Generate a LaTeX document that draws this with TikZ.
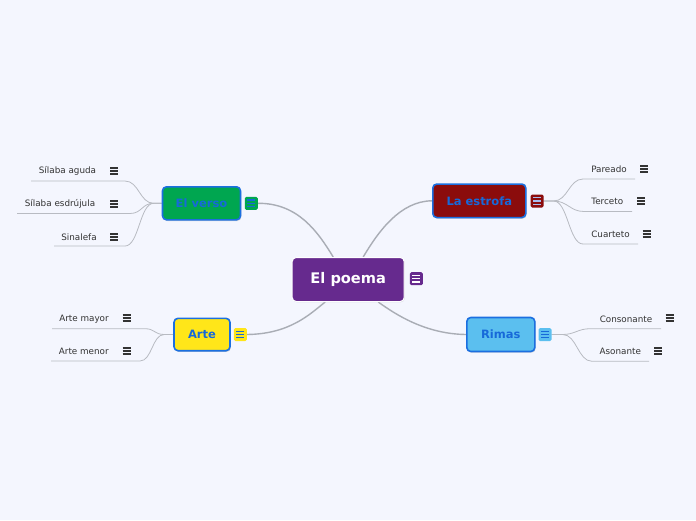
\documentclass[tikz,border=0pt]{standalone}
\usepackage{fontspec}
\setmainfont{DejaVu Sans}
\usetikzlibrary{shadows}
\definecolor{bgc}{HTML}{F4F6FE}
\definecolor{poemac}{HTML}{662A8E}
\definecolor{versoc}{HTML}{00A650}
\definecolor{estrofac}{HTML}{8B0C0C}
\definecolor{artec}{HTML}{FFE619}
\definecolor{rimasc}{HTML}{5BBFEF}
\definecolor{txtc}{HTML}{1769D9}
\definecolor{bordc}{HTML}{1B6FE0}
\definecolor{leaftxt}{HTML}{333333}
\definecolor{mainlc}{HTML}{A9ADB5}
\definecolor{leaflc}{HTML}{B8BBC2}
\definecolor{lightbar}{HTML}{A9BDF0}
\pgfdeclarelayer{bglayer}\pgfdeclarelayer{edgelayer}
\pgfsetlayers{bglayer,edgelayer,main}
\begin{document}
\begin{tikzpicture}[x=1pt,y=-1pt,
  maintopic/.style={rectangle, rounded corners=4pt, draw=bordc, line width=1.6pt,
    text=txtc, font=\bfseries\fontsize{11.5}{13}\selectfont, inner sep=0pt,
    drop shadow={shadow xshift=0.8pt, shadow yshift=-1.2pt, opacity=0.3}},
  noteicon/.style 2 args={rectangle, rounded corners=1.5pt, minimum size=13pt, inner sep=0pt,
    fill=#1, path picture={\foreach \dy in {-3.2,0,3.2}{\draw[#2, line width=1.3pt]
      ([xshift=-4pt,yshift=\dy pt]path picture bounding box.center) --
      ([xshift=4pt,yshift=\dy pt]path picture bounding box.center);}}},
  leaficon/.style={rectangle, minimum width=9pt, minimum height=9pt, inner sep=0pt,
    path picture={\foreach \dy in {-3,0,3}{\draw[leaftxt, line width=1.7pt]
      ([xshift=-4pt,yshift=\dy pt]path picture bounding box.center) --
      ([xshift=4pt,yshift=\dy pt]path picture bounding box.center);}}},
  leaf/.style={font=\fontsize{8.8}{10}\selectfont, text=leaftxt, inner sep=0pt},
  mainline/.style={draw=mainlc, line width=1.4pt},
  leafline/.style={draw=leaflc, line width=0.8pt}
]
\begin{pgfonlayer}{bglayer}
\fill[bgc] (0,0) rectangle (696,520);
\end{pgfonlayer}
\useasboundingbox (0,0) rectangle (696,520);

% central node
\node[rectangle, rounded corners=4pt, fill=poemac, draw=white, line width=1pt, text=white,
  font=\bfseries\fontsize{14.6}{16}\selectfont, minimum width=112pt, minimum height=44pt,
  inner sep=0pt, drop shadow={shadow xshift=0.6pt, shadow yshift=-0.8pt, opacity=0.2}]
  (poema) at (348.2,279.5) {El poema};
\node[noteicon={poemac}{white}] (picon) at (416.3,278.7) {};

% main topics
\node[maintopic, fill=versoc, minimum width=78pt, minimum height=33pt] (verso) at (201.5,203.3) {El verso};
\node[noteicon={versoc}{txtc}] (vicon) at (251.3,203.3) {};
\node[maintopic, fill=estrofac, minimum width=93pt, minimum height=33.5pt] (estrofa) at (479.3,200.8) {La estrofa};
\node[noteicon={estrofac}{lightbar}] (eicon) at (537,201) {};
\node[maintopic, fill=artec, minimum width=56pt, minimum height=32.4pt] (arte) at (202,334.5) {Arte};
\node[noteicon={artec}{txtc}] (aicon) at (240.3,334.5) {};
\node[maintopic, fill=rimasc, minimum width=68pt, minimum height=34pt] (rimas) at (500.8,334.5) {Rimas};
\node[noteicon={rimasc}{txtc}] (ricon) at (545,334.5) {};

% leaves: El verso
\node[leaf] (v1) at (67.5,171) {Sílaba aguda};
\node[leaficon] (v1i) at (114,171) {};
\node[leaf] (v2) at (60,204) {Sílaba esdrújula};
\node[leaficon] (v2i) at (114,204) {};
\node[leaf] (v3) at (79,237) {Sinalefa};
\node[leaficon] (v3i) at (114,237) {};
% leaves: La estrofa
\node[leaf] (e1) at (609,169) {Pareado};
\node[leaficon] (e1i) at (644,169) {};
\node[leaf] (e2) at (607.3,201.7) {Terceto};
\node[leaficon] (e2i) at (641,201) {};
\node[leaf] (e3) at (610.5,234) {Cuarteto};
\node[leaficon] (e3i) at (646.7,234) {};
% leaves: Arte
\node[leaf] (a1) at (84,319) {Arte mayor};
\node[leaficon] (a1i) at (126.7,318) {};
\node[leaf] (a2) at (83.8,351) {Arte menor};
\node[leaficon] (a2i) at (126.7,351) {};
% leaves: Rimas
\node[leaf] (r1) at (626,319) {Consonante};
\node[leaficon] (r1i) at (669.7,318) {};
\node[leaf] (r2) at (620.3,351) {Asonante};
\node[leaficon] (r2i) at (658,351) {};

% underline coordinates
\coordinate (v1a) at (125,181);   \coordinate (v1b) at (31,181);
\coordinate (v2a) at (130,213.5); \coordinate (v2b) at (17,213.5);
\coordinate (v3a) at (125,246);   \coordinate (v3b) at (54,246);
\coordinate (e1a) at (583,179);   \coordinate (e1b) at (635,179);
\coordinate (e2a) at (584,211.5); \coordinate (e2b) at (632,211.5);
\coordinate (e3a) at (583,244);   \coordinate (e3b) at (638,244);
\coordinate (a1a) at (145,328.7); \coordinate (a1b) at (52,328.7);
\coordinate (a2a) at (140,361);   \coordinate (a2b) at (51,361);
\coordinate (r1a) at (590,328.7); \coordinate (r1b) at (661,328.7);
\coordinate (r2a) at (592,361.3); \coordinate (r2b) at (649,361.3);

\begin{pgfonlayer}{edgelayer}
% main connectors
\draw[mainline] (vicon.east) .. controls (298,203) and (318,232) .. ([xshift=-15pt]poema.north);
\draw[mainline] (estrofa.west) .. controls (400,201) and (378,232) .. ([xshift=15pt]poema.north);
\draw[mainline] (aicon.east) .. controls (290,334) and (310,314) .. ([xshift=-23pt]poema.south);
\draw[mainline] (rimas.west) .. controls (425,334) and (395,314) .. ([xshift=30pt]poema.south);
% leaf connectors
\draw[leafline] (verso.west) -- ++(-8,0) .. controls +(-14,0) and +(14,0) .. (v1a) -- (v1b);
\draw[leafline] (verso.west) -- ++(-8,0) .. controls +(-12,0) and +(12,0) .. (v2a) -- (v2b);
\draw[leafline] (verso.west) -- ++(-8,0) .. controls +(-14,0) and +(14,0) .. (v3a) -- (v3b);
\draw[leafline] (eicon.east) -- ++(10,0) .. controls +(14,0) and +(-14,0) .. (e1a) -- (e1b);
\draw[leafline] (eicon.east) -- ++(10,0) .. controls +(14,0) and +(-14,0) .. (e2a) -- (e2b);
\draw[leafline] (eicon.east) -- ++(10,0) .. controls +(14,0) and +(-14,0) .. (e3a) -- (e3b);
\draw[leafline] (arte.west) -- ++(-9,0) .. controls +(-10,0) and +(10,0) .. (a1a) -- (a1b);
\draw[leafline] (arte.west) -- ++(-9,0) .. controls +(-12,0) and +(12,0) .. (a2a) -- (a2b);
\draw[leafline] (ricon.east) -- ++(11,0) .. controls +(12,0) and +(-12,0) .. (r1a) -- (r1b);
\draw[leafline] (ricon.east) -- ++(11,0) .. controls +(14,0) and +(-14,0) .. (r2a) -- (r2b);
\end{pgfonlayer}
\end{tikzpicture}
\end{document}
